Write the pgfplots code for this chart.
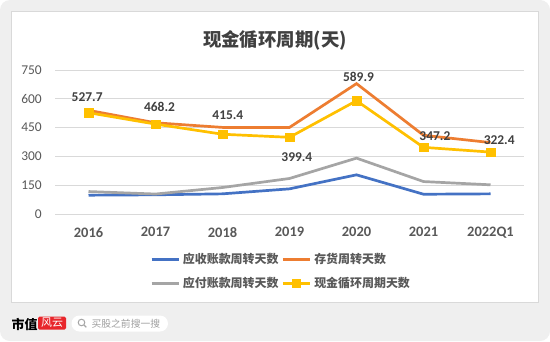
\documentclass[border=0pt]{standalone}
\usepackage{fontspec}
\setmainfont{Noto Sans CJK SC}
\newfontfamily\num{Carlito}
\usepackage{pgfplots}
\pgfplotsset{compat=1.18}
\definecolor{bgray}{HTML}{EFEFEF}
\definecolor{panelborder}{HTML}{D9D9D9}
\definecolor{gridc}{HTML}{D9D9D9}
\definecolor{titlec}{HTML}{404040}
\definecolor{tickc}{HTML}{595959}
\definecolor{cblue}{HTML}{4472C4}
\definecolor{corange}{HTML}{ED7D31}
\definecolor{cgray}{HTML}{A5A5A5}
\definecolor{cyellow}{HTML}{FFC000}
\definecolor{logored}{HTML}{E8262B}
\begin{document}
\begin{tikzpicture}[x=1bp,y=1bp]
\useasboundingbox (0,0) rectangle (550,341);
\fill[white] (0,0) rectangle (550,341);
\fill[bgray, rounded corners=10bp] (0,0) rectangle (550,341);
\draw[fill=white, draw=panelborder, line width=0.8bp] (11.5,39) rectangle (538,329.5);
\node[font=\bfseries\fontsize{18.5}{18.5}\selectfont, text=titlec] at (275,300.5) {现金循环周期(天)};
\begin{axis}[
  at={(55bp,127bp)}, anchor=south west, scale only axis,
  width=469bp, height=144bp,
  xmin=-0.5, xmax=6.5, ymin=0, ymax=750,
  ytick={0,150,300,450,600,750},
  xtick={0,1,2,3,4,5,6},
  xticklabels={2016,2017,2018,2019,2020,2021,2022Q1},
  ymajorgrids, grid style={gridc, line width=0.8bp},
  axis line style={draw=none}, tick style={draw=none},
  yticklabel style={font=\num\fontsize{13.5}{13.5}\selectfont, text=tickc, inner sep=0pt, xshift=-13bp},
  xticklabel style={font=\num\bfseries\fontsize{14.5}{14.5}\selectfont, text=tickc, inner sep=0pt, yshift=-13bp},
  /pgf/number format/assume math mode=true,
  legend style={at={(0.2026,-0.273)}, anchor=north west, draw=none, fill=none,
    font=\bfseries\fontsize{12}{12}\selectfont, text=tickc, inner sep=0pt,
    nodes={inner sep=0pt},
    row sep=12bp, column sep=3bp},
  legend columns=2,
  legend cell align=left,
  legend image code/.code={\draw[mark repeat=2,mark phase=2,#1] plot coordinates {(0bp,0bp) (13.5bp,0bp) (27bp,0bp)};},
  every axis plot/.append style={line width=2.7bp},
  clip=false,
]
\addplot[cblue, no marks] coordinates {(0,98) (1,100) (2,105) (3,131) (4,204) (5,103) (6,105)};
\addlegendentry{应收账款周转天数}
\addplot[corange, no marks] coordinates {(0,540) (1,475) (2,451) (3,451) (4,679) (5,410) (6,372)};
\addlegendentry{存货周转天数}
\addplot[cgray, no marks] coordinates {(0,117) (1,104) (2,138) (3,185) (4,291) (5,169) (6,152)};
\addlegendentry{应付账款周转天数}
\addplot[cyellow, mark=square*, mark size=4.3bp, mark options={solid, line width=0.5bp}] coordinates {(0,527.7) (1,468.2) (2,415.4) (3,399.4) (4,589.9) (5,347.2) (6,322.4)};
\addlegendentry{现金循环周期天数}
\begin{scope}[every node/.style={font=\num\bfseries\fontsize{13.5}{13.5}\selectfont, text=titlec}]
\node at (axis cs:-0.02,611) {527.7};
\node at (axis cs:1.06,556) {468.2};
\node at (axis cs:2.08,516) {415.4};
\node at (axis cs:3.11,298) {399.4};
\node at (axis cs:4.03,715) {589.9};
\node at (axis cs:5.17,406) {347.2};
\node at (axis cs:6.13,385) {322.4};
\end{scope}
\end{axis}
% footer
\node[font=\bfseries\fontsize{13}{13}\selectfont, text=black, anchor=west, inner sep=0pt] at (11.5,17) {市值};
\fill[logored, rounded corners=1.5bp] (38,11.5) rectangle (66,24.5);
\node[font=\itshape\fontsize{11}{11}\selectfont, text=white, inner sep=0pt] at (52,18) {风云};
\fill[white, rounded corners=8bp] (71.5,9.5) rectangle (168,25.5);
\draw[gray!70, line width=1bp] (81.5,18.5) circle (3.3bp);
\draw[gray!70, line width=1.2bp] (83.9,16.1) -- (86.3,13.7);
\node[font=\fontsize{9.8}{9.8}\selectfont, text=gray!75, anchor=west, inner sep=0pt] at (91.5,17.5) {买股之前搜一搜};
\end{tikzpicture}
\end{document}
